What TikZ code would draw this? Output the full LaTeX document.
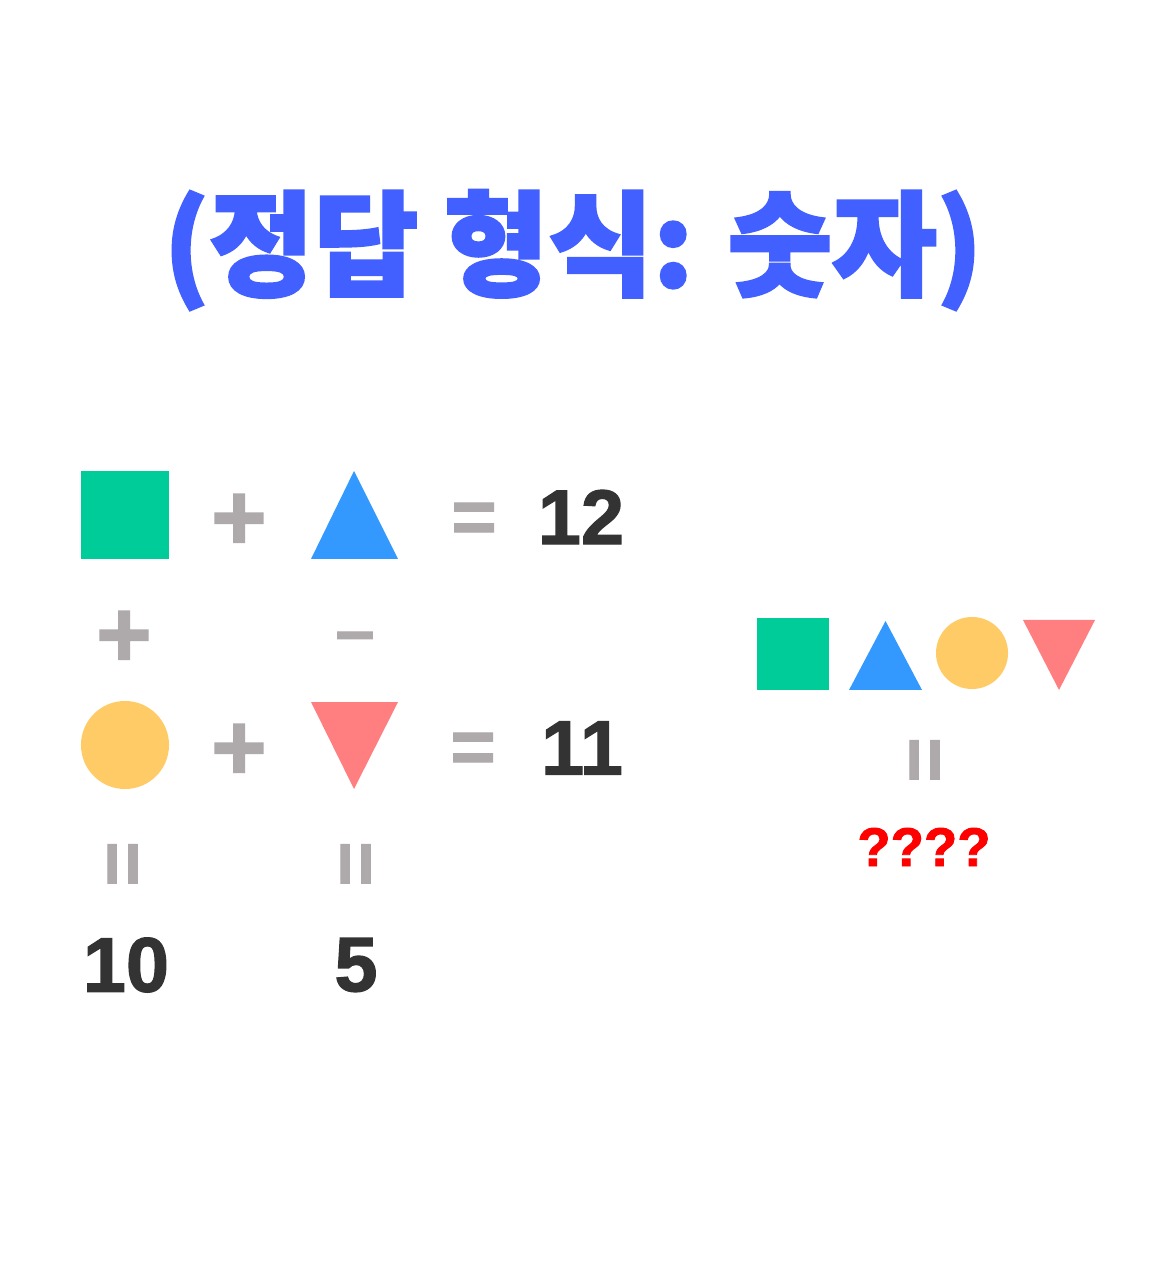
\documentclass[tikz,border=0pt]{standalone}
\usepackage{fontspec}
\setmainfont{Liberation Sans}[BoldFeatures={FakeBold=1.6}]
\newfontfamily\krfont{Noto Sans CJK KR}[BoldFeatures={FakeBold=2.5}]
\usepackage{xcolor}
\definecolor{title-blue}{HTML}{4160FF}
\definecolor{sq-green}{HTML}{00CC99}
\definecolor{tri-blue}{HTML}{3399FF}
\definecolor{dot-yellow}{HTML}{FFCB66}
\definecolor{tri-red}{HTML}{FF7F80}
\definecolor{op-grey}{HTML}{AEAAAB}
\definecolor{num-dark}{HTML}{333333}
\definecolor{ask-red}{HTML}{FF0000}

\begin{document}
\begin{tikzpicture}[x=0.01cm, y=-0.01cm,
    every node/.style={inner sep=0, outer sep=0},
    opsign/.style={text=op-grey, font=\bfseries\fontsize{27}{27}\selectfont},
    eqsign/.style={text=op-grey, font=\bfseries\fontsize{22}{22}\selectfont},
    numtext/.style={text=num-dark, font=\bfseries\fontsize{22}{22}\selectfont},
    sqbox/.style={fill=sq-green, minimum size=#1},
    dotbox/.style={circle, fill=dot-yellow, minimum size=#1}]
    \fill[white] (0,0) rectangle (1158,1280);
    \useasboundingbox (0,0) rectangle (1158,1280);

    % title
    \node[text=title-blue, font=\krfont\bfseries\fontsize{32.3}{32.3}\selectfont]
      (title) at (573,250) {(정답 형식: 숫자)};

    % first row
    \node[sqbox=0.88cm] (sqA) at (125,515) {};
    \node[opsign] (plusA) at (239,522) {+};
    \coordinate (triA) at (354,515);
    \fill[tri-blue] (311,559) -- (354,471) -- (398,559) -- cycle;
    \node[eqsign] (eqA) at (474,523) {=};
    \node[numtext] (sumA) at (581,517) {12};

    % operators between the rows
    \node[opsign] (plusB) at (124,639) {+};
    \node[opsign, font=\bfseries\fontsize{20}{20}\selectfont] (minusB) at (355,643) {–};

    % second row
    \node[dotbox=0.88cm] (dotA) at (125,745) {};
    \node[opsign] (plusC) at (239,752) {+};
    \coordinate (triB) at (354,745);
    \fill[tri-red] (311,702) -- (398,702) -- (354,789) -- cycle;
    \node[eqsign] (eqB) at (473,753) {=};
    \node[numtext] (sumB) at (582,748) {11};

    % column results
    \node[eqsign, rotate=90] (eqC) at (128,864) {=};
    \node[eqsign, rotate=90] (eqD) at (361,864) {=};
    \node[numtext] (valA) at (126,965) {10};
    \node[numtext] (valB) at (356,965) {5};

    % question on the right
    \node[sqbox=0.72cm] (sqB) at (793,654) {};
    \coordinate (triC) at (885,655);
    \fill[tri-blue] (849,690) -- (885.5,621) -- (922,690) -- cycle;
    \node[dotbox=0.72cm] (dotB) at (972,653) {};
    \coordinate (triD) at (1059,655);
    \fill[tri-red] (1023,620) -- (1095,620) -- (1059,690) -- cycle;
    \node[eqsign, rotate=90] (eqE) at (930,760) {=};
    \node[text=ask-red, font=\bfseries\fontsize{15.5}{15.5}\selectfont]
      (ask) at (924,847) {????};
\end{tikzpicture}
\end{document}
